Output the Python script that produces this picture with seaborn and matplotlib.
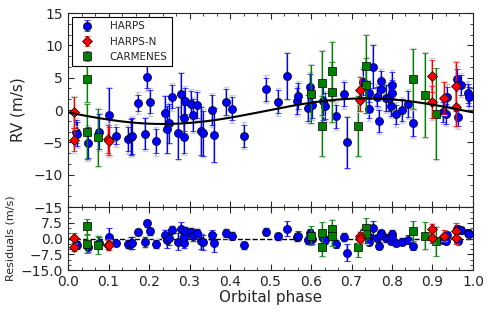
import matplotlib
matplotlib.use("Agg")
import matplotlib.pyplot as plt
import seaborn as sns
import numpy as np
from matplotlib.ticker import AutoMinorLocator, MultipleLocator

# RV data: phase, RV (m/s), error (m/s)
harps_phase = [0.019, 0.021, 0.050, 0.077, 0.100, 0.118, 0.147, 0.156, 0.159, 0.174,
               0.189, 0.196, 0.202, 0.217, 0.239, 0.244, 0.250, 0.258, 0.272, 0.279,
               0.286, 0.287, 0.288, 0.303, 0.309, 0.318, 0.328, 0.334, 0.356, 0.361,
               0.390, 0.406, 0.434, 0.490, 0.518, 0.540, 0.565, 0.567, 0.593, 0.598,
               0.602, 0.630, 0.635, 0.662, 0.681, 0.690, 0.728, 0.743, 0.744, 0.754,
               0.764, 0.769, 0.772, 0.772, 0.784, 0.793, 0.798, 0.801, 0.801, 0.811,
               0.825, 0.839, 0.853, 0.927, 0.933, 0.935, 0.961, 0.963, 0.971, 0.988,
               0.991]
harps_rv = [-3.35, -3.7, -5.05, -3.35, -0.82, -4.0, -4.5, -4.2, -4.0, 1.08,
            -3.7, 5.15, 1.28, -4.8, -0.5, -3.0, -2.06, 2.06, -3.6, 2.42,
            -4.2, -1.24, 1.44, 0.93, -0.77, 0.82, -3.25, -3.6, 0.0, -3.86,
            1.28, 0.2, -4.0, 3.2, 1.28, 5.25, 1.39, 2.16, 0.26, 3.5,
            0.72, 1.44, 0.62, -0.98, 2.47, -5.0, 4.33, 2.68, 0.2, 6.7,
            2.06, -1.65, 4.48, 3.3, 1.9, 1.8, 0.62, 3.86, 2.58, -0.67,
            0.0, 0.88, -2.06, -0.3, -0.62, 2.06, 4.84, -1.03, 3.86, 2.58,
            2.06]
harps_err = [1.8, 1.8, 2.4, 2.7, 4.2, 1.3, 1.9, 2.8, 2.8, 1.2,
             2.4, 1.8, 1.8, 1.9, 2.6, 3.6, 3.0, 1.8, 4.0, 3.3,
             2.5, 2.0, 2.0, 2.0, 2.5, 2.0, 3.7, 3.5, 2.3, 4.2,
             2.0, 1.8, 1.7, 1.8, 1.8, 3.5, 2.0, 2.0, 2.0, 2.0,
             2.0, 3.0, 2.0, 1.8, 1.9, 3.9, 2.0, 1.5, 1.5, 3.3,
             1.5, 1.7, 1.5, 1.5, 2.0, 2.0, 1.5, 2.0, 2.0, 1.5,
             1.7, 2.0, 2.0, 1.5, 1.5, 1.5, 1.5, 1.5, 1.5, 1.5,
             1.5]

harpsn_phase = [0.015, 0.015, 0.098, 0.101, 0.721, 0.722, 0.900, 0.900, 0.929, 0.957, 0.958]
harpsn_rv = [-0.36, -4.6, -4.5, -4.8, 3.1, 1.6, 5.3, 1.19, 1.85, 3.7, 0.51]
harpsn_err = [2.4, 1.8, 2.2, 2.2, 2.0, 1.7, 2.5, 2.5, 2.5, 3.8, 3.0]

carm_phase = [0.046, 0.046, 0.073, 0.599, 0.626, 0.626, 0.653, 0.653, 0.715, 0.737,
              0.737, 0.853, 0.881, 0.909]
carm_rv = [4.8, -3.35, -4.2, 2.5, 4.2, -2.47, 5.98, 2.8, -2.47, 6.8,
           3.8, 4.8, 2.3, -0.57]
carm_err = [3.5, 4.3, 4.4, 4.5, 5.0, 4.7, 4.6, 4.6, 4.6, 4.8,
            4.3, 4.7, 6.5, 7.0]

# jitter added in quadrature for the pale outer error bars
jitter = {"HARPS": 1.2, "HARPS-N": 1.0, "CARMENES": 1.2}

# circular model: semi-amplitude, offset, phase of minimum
K = 1.98
offset = -0.18
phase_min = 0.235


def model(ph):
    return offset - K * np.cos(2 * np.pi * (np.asarray(ph) - phase_min))


sns.set_style("ticks")
plt.rcParams["font.family"] = ["DejaVu Sans"]
plt.rcParams["xtick.direction"] = "in"
plt.rcParams["ytick.direction"] = "in"
plt.rcParams["xtick.top"] = True
plt.rcParams["ytick.right"] = True

fig = plt.figure(figsize=(4.9, 3.12), dpi=100)
ax = fig.add_axes([0.1388, 0.3365, 0.8265, 0.6218])
axr = fig.add_axes([0.1388, 0.1346, 0.8265, 0.2019], sharex=ax)

sets = [
    ("HARPS", harps_phase, harps_rv, harps_err, "blue", "o", 5.8, 3),
    ("HARPS-N", harpsn_phase, harpsn_rv, harpsn_err, "red", "D", 5.2, 5),
    ("CARMENES", carm_phase, carm_rv, carm_err, "green", "s", 5.2, 4),
]


def draw(a, ph, y, e, jit, color, marker, ms, z, label=None):
    eo = np.sqrt(np.asarray(e) ** 2 + jit ** 2)
    a.errorbar(ph, y, yerr=eo, fmt="none", ecolor=color, alpha=0.3,
               elinewidth=1.4, capsize=0, zorder=z)
    a.errorbar(ph, y, yerr=eo, fmt="none", ecolor="0.82", elinewidth=0,
               capsize=2.5, capthick=1, zorder=z)
    a.errorbar(ph, y, yerr=e, fmt=marker, color=color, mec="k", mew=0.5,
               ms=ms, ecolor=color, elinewidth=0.9, capsize=2.0, capthick=0.7,
               label=label, zorder=z + 0.5)


for name, ph, rv, err, col, mk, ms, z in sets:
    draw(ax, ph, rv, err, jitter[name], col, mk, ms, z, label=name)
    res = np.asarray(rv) - model(ph)
    draw(axr, ph, res, err, jitter[name], col, mk, ms, z)

grid = np.linspace(0, 1, 300)
sns.lineplot(x=grid, y=model(grid), color="k", linewidth=1.5, ax=ax, zorder=6)
axr.axhline(0, color="k", linestyle="--", linewidth=1, zorder=1)

ax.set_xlim(0, 1)
ax.set_ylim(-15, 15)
ax.yaxis.set_major_locator(MultipleLocator(5))
ax.set_ylabel("RV (m/s)", fontsize=11, labelpad=6)
ax.tick_params(labelbottom=False, labelsize=10)
axr.set_ylim(-15, 15)
axr.set_yticks([-15, -7.5, 0, 7.5])
axr.xaxis.set_major_locator(MultipleLocator(0.1))
axr.set_xlabel("Orbital phase", fontsize=11, labelpad=1)
axr.set_ylabel("Residuals (m/s)", fontsize=8)
axr.tick_params(labelsize=10)

for a in (ax, axr):
    a.xaxis.set_minor_locator(AutoMinorLocator(3))
    a.yaxis.set_minor_locator(AutoMinorLocator(3))
    a.tick_params(which="both", direction="in", top=True, right=True)
    a.tick_params(which="major", length=4)
    a.tick_params(which="minor", length=2)
    for s in a.spines.values():
        s.set_linewidth(0.8)

leg = ax.legend(loc="upper left", fontsize=7.5, numpoints=1, fancybox=False,
                edgecolor="k", framealpha=1, borderaxespad=0.4, handletextpad=1.2)
leg.get_frame().set_linewidth(0.8)

fig.savefig("out.png", dpi=100)
